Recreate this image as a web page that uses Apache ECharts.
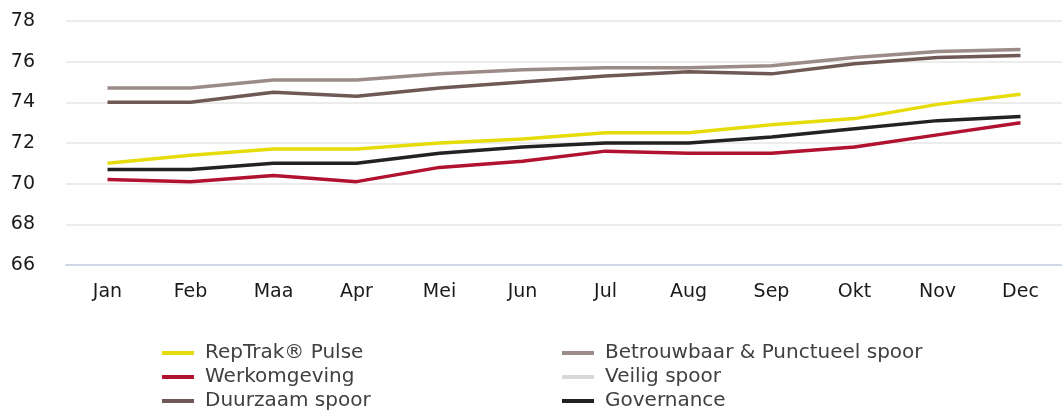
<!DOCTYPE html>
<html>
<head>
<meta charset="utf-8">
<script src="https://cdn.jsdelivr.net/npm/echarts@6/dist/echarts.min.js"></script>
<style>html,body{margin:0;padding:0;background:#fff;}#c{width:1062px;height:410px;}</style>
</head>
<body>
<div id="c"></div>
<script>
const categories = ['Jan','Feb','Maa','Apr','Mei','Jun','Jul','Aug','Sep','Okt','Nov','Dec'];
const yTicks = [66, 68, 70, 72, 74, 76, 78];
const repTrak = [71.0, 71.4, 71.7, 71.7, 72.0, 72.2, 72.5, 72.5, 72.9, 73.2, 73.9, 74.4];
const werkomgeving = [70.2, 70.1, 70.4, 70.1, 70.8, 71.1, 71.6, 71.5, 71.5, 71.8, 72.4, 73.0];
const duurzaam = [74.0, 74.0, 74.5, 74.3, 74.7, 75.0, 75.3, 75.5, 75.4, 75.9, 76.2, 76.3];
const betrouwbaar = [74.7, 74.7, 75.1, 75.1, 75.4, 75.6, 75.7, 75.7, 75.8, 76.2, 76.5, 76.6];
const veilig = [];
const governance = [70.7, 70.7, 71.0, 71.0, 71.5, 71.8, 72.0, 72.0, 72.3, 72.7, 73.1, 73.3];

const FONT = 'DejaVu Sans';
const chart = echarts.init(document.getElementById('c'), null, {renderer: 'canvas'});
function ser(name, data, color) {
  return {name, type: 'line', data, symbol: 'none', smooth: false,
    lineStyle: {color, width: 3.5}, itemStyle: {color}, animation: false};
}
const legendCommon = {
  orient: 'vertical', itemWidth: 32, itemHeight: 4, itemGap: 0, icon: 'rect',
  height: 100, padding: 0,
  textStyle: {fontFamily: FONT, fontSize: 20, color: '#404040', lineHeight: 24, padding: [0,0,0,6]},
  selectedMode: false
};
chart.setOption({
  animation: false,
  grid: {left: 66, right: -11, top: 21, bottom: 145, containLabel: false},
  legend: [
    Object.assign({left: 162, top: 341, data: ['RepTrak® Pulse','Werkomgeving','Duurzaam spoor']}, legendCommon),
    Object.assign({left: 562, top: 341, data: ['Betrouwbaar & Punctueel spoor','Veilig spoor','Governance']}, legendCommon)
  ],
  xAxis: {
    type: 'category', data: categories, boundaryGap: true,
    axisLine: {show: true, lineStyle: {color: '#d0d8e8', width: 2}},
    axisTick: {show: false},
    axisLabel: {fontFamily: FONT, fontSize: 19, color: '#1a1a1a', margin: 18}
  },
  yAxis: {
    type: 'value', min: yTicks[0], max: yTicks[yTicks.length-1], interval: 2,
    axisLine: {show: false}, axisTick: {show: false},
    splitLine: {lineStyle: {color: '#e6e6e6', width: 1.5}},
    axisLabel: {fontFamily: FONT, fontSize: 19, color: '#1a1a1a', margin: 31}
  },
  series: [
    ser('RepTrak® Pulse', repTrak, '#e6dc0a'),
    ser('Werkomgeving', werkomgeving, '#b0122f'),
    ser('Duurzaam spoor', duurzaam, '#6e5955'),
    ser('Betrouwbaar & Punctueel spoor', betrouwbaar, '#9c8c88'),
    ser('Veilig spoor', veilig, '#d9d9d9'),
    ser('Governance', governance, '#222222')
  ]
});
</script>
</body>
</html>
